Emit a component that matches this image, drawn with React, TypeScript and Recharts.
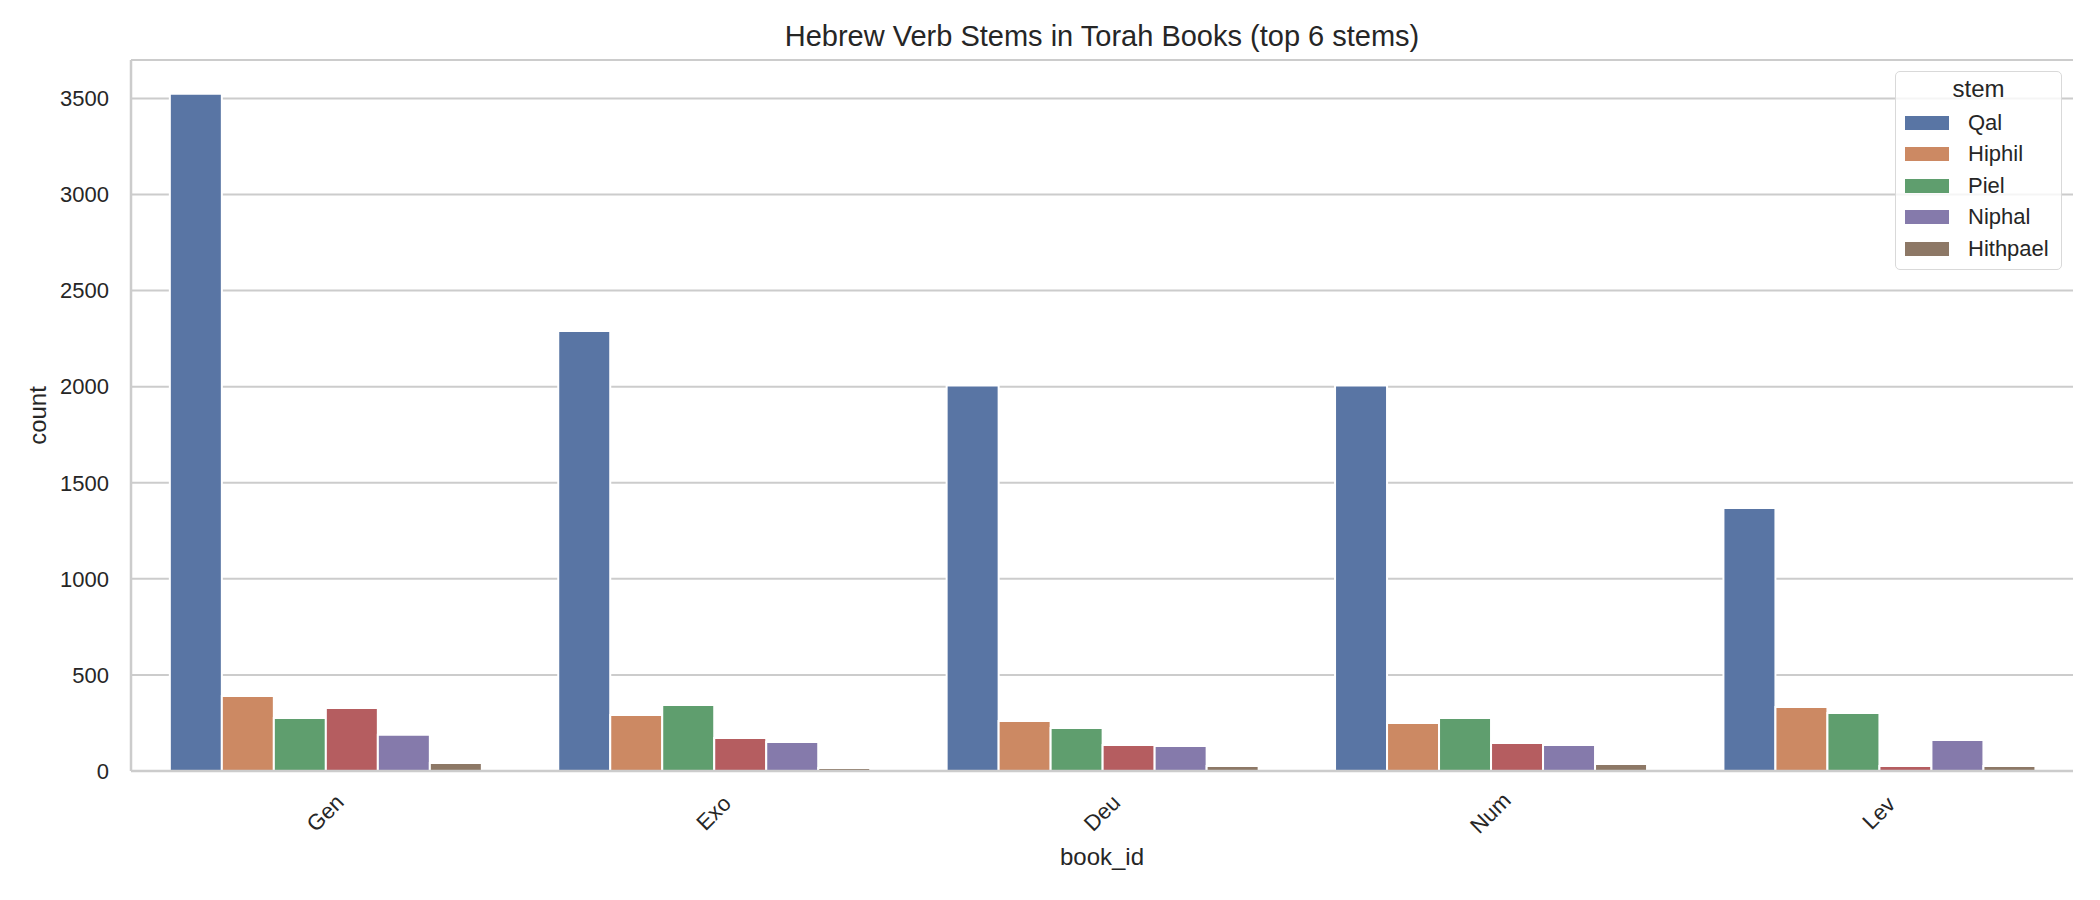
import { Bar, BarChart, CartesianGrid, Label, XAxis, YAxis } from "recharts";

const books = ["Gen", "Exo", "Deu", "Num", "Lev"];

const qal = [3525, 2290, 2006, 2006, 1368];
const hiphil = [390, 292, 260, 250, 333];
const piel = [276, 344, 224, 276, 302];
const unlabeled = [328, 172, 135, 146, 26];
const niphal = [188, 151, 130, 135, 161];
const hithpael = [42, 16, 26, 36, 26];

const yTicks = [0, 500, 1000, 1500, 2000, 2500, 3000, 3500];

// red series has no legend entry in the original figure
const stems = [
  { key: "Qal", values: qal, color: "#5975a4", inLegend: true },
  { key: "Hiphil", values: hiphil, color: "#cc8963", inLegend: true },
  { key: "Piel", values: piel, color: "#5f9e6e", inLegend: true },
  { key: "_unlabeled", values: unlabeled, color: "#b55d60", inLegend: false },
  { key: "Niphal", values: niphal, color: "#857aab", inLegend: true },
  { key: "Hithpael", values: hithpael, color: "#8d7866", inLegend: true },
];

const data = books.map((book, i) => {
  const row: Record<string, string | number> = { book_id: book };
  stems.forEach((s) => {
    row[s.key] = s.values[i];
  });
  return row;
});

const FONT = "'Liberation Sans', Arial, sans-serif";
const TEXT = "#262626";
const EDGE = "#cccccc";

const BookTick = ({ x, y, payload }: any) => {
  const cy = y + 42;
  return (
    <text
      x={x}
      y={cy}
      textAnchor="middle"
      dominantBaseline="central"
      transform={`rotate(-45 ${x} ${cy})`}
      fontSize={22}
      fill={TEXT}
      fontFamily={FONT}
    >
      {payload.value}
    </text>
  );
};

const StemLegend = () => (
  <div
    style={{
      position: "absolute",
      left: 1895,
      top: 71,
      width: 167,
      height: 199,
      boxSizing: "border-box",
      border: "1.5px solid #d9d9d9",
      borderRadius: 5,
      background: "rgba(255,255,255,0.8)",
      fontFamily: FONT,
      color: TEXT,
    }}
  >
    <div
      style={{
        position: "absolute",
        left: 0,
        right: 0,
        top: 5,
        textAlign: "center",
        fontSize: 24,
        lineHeight: "24px",
      }}
    >
      stem
    </div>
    {stems
      .filter((s) => s.inLegend)
      .map((s, i) => (
        <div
          key={s.key}
          style={{
            position: "absolute",
            left: 0,
            top: 51 + i * 31.4 - 11,
            height: 22,
            width: "100%",
          }}
        >
          <div
            style={{
              position: "absolute",
              left: 9,
              top: 4,
              width: 44,
              height: 14,
              background: s.color,
            }}
          />
          <div
            style={{
              position: "absolute",
              left: 72,
              top: 0,
              fontSize: 22,
              lineHeight: "22px",
              whiteSpace: "nowrap",
            }}
          >
            {s.key}
          </div>
        </div>
      ))}
  </div>
);

export default function App() {
  return (
    <div
      style={{
        position: "absolute",
        left: 0,
        top: 0,
        width: 2100,
        height: 900,
        background: "#ffffff",
        fontFamily: FONT,
      }}
    >
      <div
        style={{
          position: "absolute",
          left: 131,
          width: 1942,
          top: 22,
          textAlign: "center",
          fontSize: 29,
          lineHeight: "29px",
          color: TEXT,
        }}
      >
        Hebrew Verb Stems in Torah Books (top 6 stems)
      </div>
      <BarChart
        width={2100}
        height={900}
        data={data}
        margin={{ top: 60, right: 27, bottom: 0, left: 0 }}
        barCategoryGap="10%"
        barGap={0}
      >
        <CartesianGrid vertical={false} stroke={EDGE} strokeWidth={2} />
        <XAxis
          dataKey="book_id"
          height={129}
          tickLine={false}
          tickSize={0}
          tickMargin={0}
          tick={<BookTick />}
          axisLine={{ stroke: EDGE, strokeWidth: 2.5 }}
        >
          <Label
            value="book_id"
            position="insideBottom"
            offset={35}
            style={{ fontSize: 24, fill: TEXT, fontFamily: FONT }}
          />
        </XAxis>
        <XAxis
          xAxisId="top"
          dataKey="book_id"
          orientation="top"
          height={0}
          tick={false}
          tickLine={false}
          axisLine={{ stroke: EDGE, strokeWidth: 2.5 }}
        />
        <YAxis
          width={131}
          domain={[0, 3700]}
          ticks={yTicks}
          tickLine={false}
          tickSize={0}
          tickMargin={22}
          tick={{ fontSize: 22, fill: TEXT, fontFamily: FONT }}
          axisLine={{ stroke: EDGE, strokeWidth: 2.5 }}
        >
          <Label
            value="count"
            angle={-90}
            position="insideLeft"
            offset={37}
            textAnchor="middle"
            style={{ fontSize: 24, fill: TEXT, fontFamily: FONT }}
          />
        </YAxis>
        <YAxis
          yAxisId="right"
          orientation="right"
          width={0}
          domain={[0, 3700]}
          tick={false}
          tickLine={false}
          axisLine={{ stroke: EDGE, strokeWidth: 2.5 }}
        />
        {stems.map((s) => (
          <Bar
            key={s.key}
            dataKey={s.key}
            fill={s.color}
            stroke="#ffffff"
            strokeWidth={2}
            isAnimationActive={false}
          />
        ))}
      </BarChart>
      <StemLegend />
    </div>
  );
}
